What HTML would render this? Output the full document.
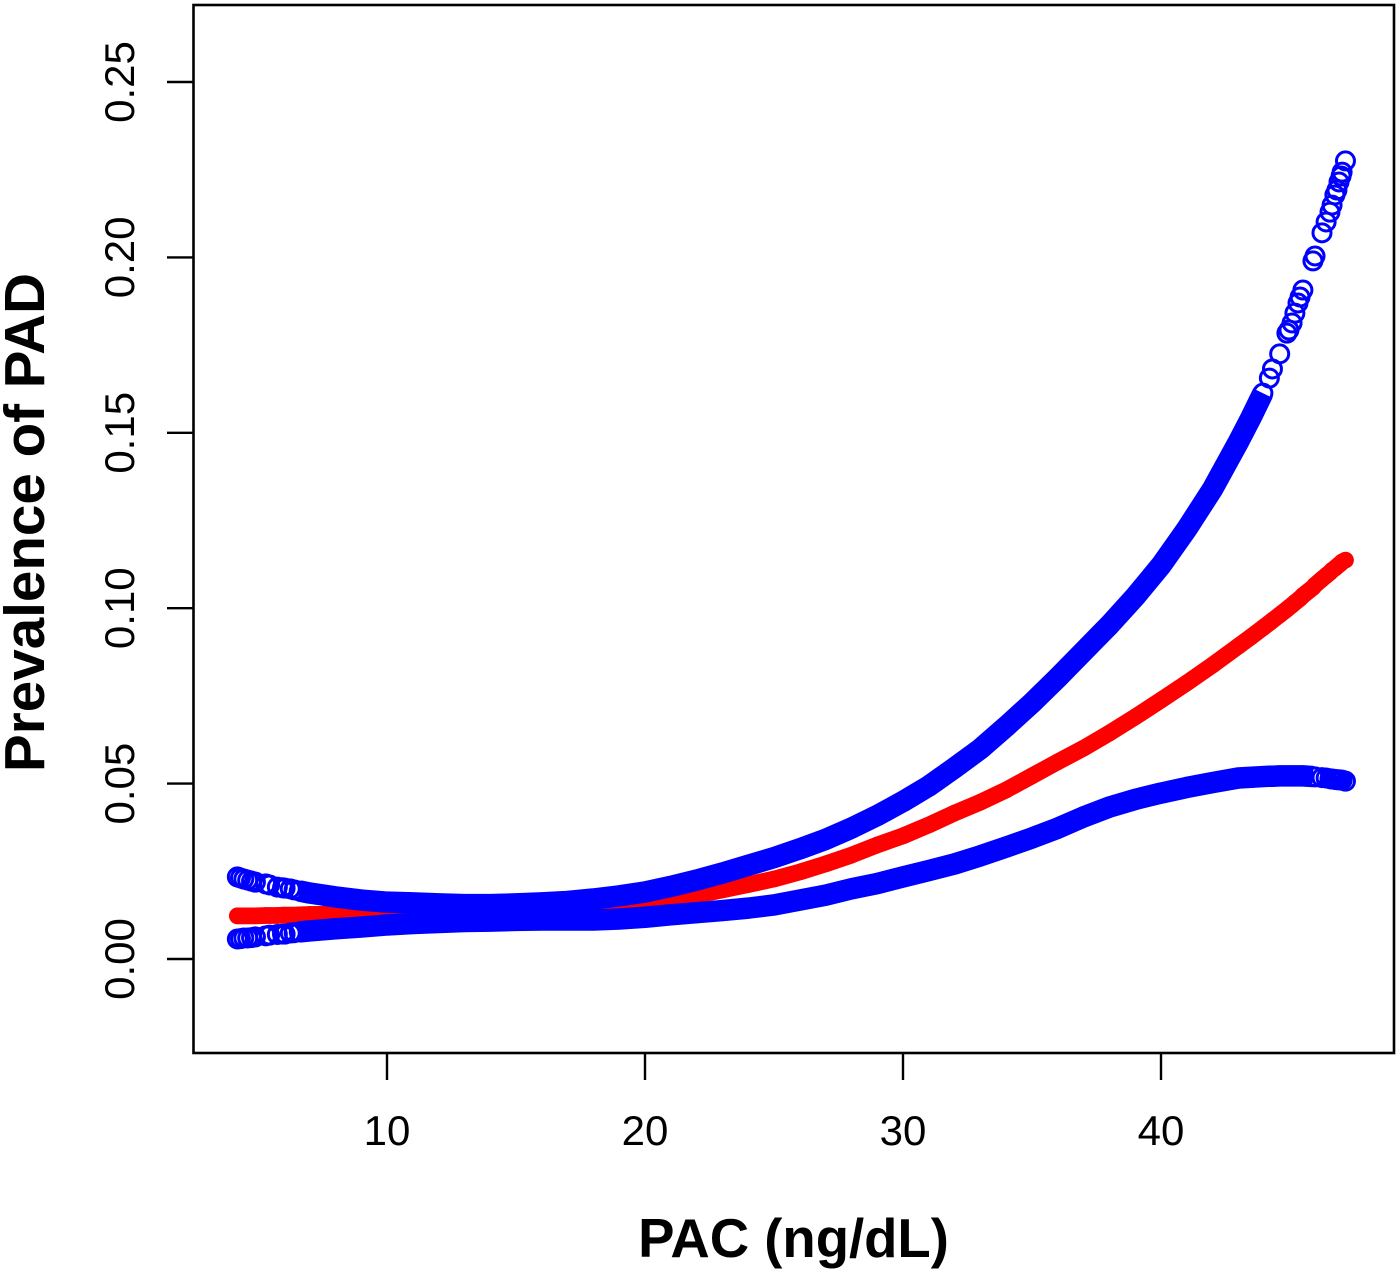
<!DOCTYPE html>
<html lang="en">
<head>
<meta charset="utf-8">
<title>Prevalence of PAD by PAC</title>
<style>
html,body{margin:0;padding:0;background:#fff;width:1400px;height:1273px;overflow:hidden}
svg{display:block}
text{font-family:"Liberation Sans",sans-serif;fill:#000}
</style>
</head>
<body>
<svg id="chart" xmlns="http://www.w3.org/2000/svg" width="1400" height="1273" viewBox="0 0 1400 1273">
<rect x="0" y="0" width="1400" height="1273" fill="#fff"/>
<g id="series"></g>
<rect x="193.5" y="5" width="1200.5" height="1048" fill="none" stroke="#000" stroke-width="2.6"/>
<g id="axes"></g>
<text x="793.5" y="1257" font-size="54.5" font-weight="700" text-anchor="middle">PAC (ng/dL)</text>
<text transform="translate(44,522.5) rotate(-90)" font-size="56.6" font-weight="700" text-anchor="middle">Prevalence of PAD</text>
</svg>
<script>
const xTickValues = [10, 20, 30, 40];
const xTickLabels = ['10', '20', '30', '40'];
const yTickValues = [0, 0.05, 0.10, 0.15, 0.20, 0.25];
const yTickLabels = ['0.00', '0.05', '0.10', '0.15', '0.20', '0.25'];

const pacValues = [
  4.2, 4.32, 4.45, 4.6, 4.75, 4.9, 5.3, 5.45, 5.75, 5.95, 6.05, 6.25, 6.4, 6.6,
  7, 8, 9, 10, 11, 12, 13, 14, 15, 16, 17, 18, 19, 20, 21, 22, 23, 24, 25,
  26, 27, 28, 29, 30, 31, 32, 33, 34, 35, 36, 37, 38, 39, 40, 41, 42,
  43, 43.5, 43.95, 44.2, 44.32, 44.6, 44.88, 44.96, 45.08, 45.19, 45.31, 45.39, 45.5,
  45.89, 45.97, 46.24, 46.4, 46.55, 46.63, 46.74, 46.82, 46.9, 46.98, 47.02, 47.15
];
const upperCI = [
  .0234, .0231, .0228, .0225, .0222, .0219, .0214, .0211, .0205, .0203, .0202, .0200, .0197, .0194,
  .0188, .0177, .0168, .0162, .0160, .0157, .0155, .0155, .0157, .0160, .0164, .0171, .0180, .0191, .0207, .0225, .0245, .0267, .0289,
  .0314, .0341, .0373, .0409, .0449, .0493, .0545, .0599, .0663, .0730, .0802, .0877, .0952, .1033, .1122, .1226, .1340,
  .1474, .1545, .1613, .1656, .1682, .1725, .1784, .1793, .1813, .1841, .1870, .1887, .1907,
  .1990, .2004, .2070, .2101, .2129, .2149, .2178, .2192, .2215, .2232, .2243, .2275
];
const fittedPrevalence = [
  .0123, .0123, .0123, .0123, .0123, .0123, .0124, .0124, .0124, .0125, .0125, .0125, .0125, .0126,
  .0127, .0128, .0128, .0130, .0130, .0131, .0132, .0133, .0135, .0137, .0141, .0146, .0153, .0157, .0168, .0182, .0197, .0212, .0228,
  .0248, .0271, .0296, .0325, .0351, .0382, .0416, .0447, .0482, .0522, .0562, .0601, .0644, .0690, .0738, .0787, .0838,
  .0892, .0919, .0944, .0958, .0965, .0981, .0997, .1002, .1009, .1016, .1023, .1028, .1036,
  .1059, .1066, .1083, .1093, .1102, .1108, .1114, .1119, .1124, .1129, .1132, .1137
];
const lowerCI = [
  .0057, .0058, .0060, .0060, .0061, .0063, .0066, .0068, .0070, .0071, .0071, .0074, .0075, .0077,
  .0080, .0086, .0091, .0097, .0101, .0104, .0107, .0108, .0110, .0111, .0111, .0111, .0114, .0119, .0126, .0132, .0138, .0145, .0154,
  .0168, .0182, .0200, .0215, .0234, .0252, .0271, .0294, .0319, .0345, .0373, .0405, .0433, .0455, .0473, .0489, .0503,
  .0516, .0518, .0520, .0521, .0521, .0522, .0522, .0522, .0522, .0522, .0522, .0522, .0522,
  .0520, .0519, .0517, .0516, .0514, .0513, .0512, .0511, .0511, .0510, .0510, .0507
];

const NS = 'http://www.w3.org/2000/svg';
const xScale = v => 387 + (v - 10) * 25.8;
const yScale = v => 959 - v * 3508;
const seriesLayer = document.getElementById('series');
const axesLayer = document.getElementById('axes');

function svgEl(tag, parent) {
  const el = document.createElementNS(NS, tag);
  parent.appendChild(el);
  return el;
}

function bandPoints(values, fromPac, toPac) {
  const pts = [];
  pacValues.forEach((p, i) => {
    if (p >= fromPac && p <= toPac) pts.push(xScale(p).toFixed(2) + ',' + yScale(values[i]).toFixed(2));
  });
  return pts.join(' ');
}

/* fitted curve */
const fitLine = svgEl('polyline', seriesLayer);


fitLine.setAttribute('points', bandPoints(fittedPrevalence, 0, 99));
fitLine.setAttribute('fill', 'none');
fitLine.setAttribute('stroke', '#f00');
fitLine.setAttribute('stroke-width', '16.7');
fitLine.setAttribute('stroke-linecap', 'round');
fitLine.setAttribute('stroke-linejoin', 'round');

pacValues.forEach((p, i) => {
  const dot = svgEl('circle', seriesLayer);
  
  
  dot.setAttribute('cx', xScale(p));
  dot.setAttribute('cy', yScale(fittedPrevalence[i]));
  dot.setAttribute('r', '8.3');
  dot.setAttribute('fill', '#f00');
});

/* upper confidence limit */
const upperLine = svgEl('polyline', seriesLayer);


upperLine.setAttribute('points', bandPoints(upperCI, 6.6, 43.95));
upperLine.setAttribute('fill', 'none');
upperLine.setAttribute('stroke', '#00f');
upperLine.setAttribute('stroke-width', '21.5');
upperLine.setAttribute('stroke-linejoin', 'round');

pacValues.forEach((p, i) => {
  const ring = svgEl('circle', seriesLayer);
  
  
  ring.setAttribute('cx', xScale(p));
  ring.setAttribute('cy', yScale(upperCI[i]));
  ring.setAttribute('r', '9');
  ring.setAttribute('fill', 'none');
  ring.setAttribute('stroke', '#00f');
  ring.setAttribute('stroke-width', '3');
});

/* lower confidence limit */
const lowerLine = svgEl('polyline', seriesLayer);


lowerLine.setAttribute('points', bandPoints(lowerCI, 6.6, 45.9));
lowerLine.setAttribute('fill', 'none');
lowerLine.setAttribute('stroke', '#00f');
lowerLine.setAttribute('stroke-width', '21.5');
lowerLine.setAttribute('stroke-linejoin', 'round');

pacValues.forEach((p, i) => {
  const ring = svgEl('circle', seriesLayer);
  
  
  ring.setAttribute('cx', xScale(p));
  ring.setAttribute('cy', yScale(lowerCI[i]));
  ring.setAttribute('r', '9');
  ring.setAttribute('fill', 'none');
  ring.setAttribute('stroke', '#00f');
  ring.setAttribute('stroke-width', '3');
});

/* x axis */
xTickValues.forEach((v, i) => {
  const tick = svgEl('line', axesLayer);
  
  
  tick.setAttribute('x1', xScale(v));
  tick.setAttribute('x2', xScale(v));
  tick.setAttribute('y1', 1053);
  tick.setAttribute('y2', 1080);
  tick.setAttribute('stroke', '#000');
  tick.setAttribute('stroke-width', '2.4');
  const label = svgEl('text', axesLayer);
  
  
  label.setAttribute('x', xScale(v));
  label.setAttribute('y', 1145);
  label.setAttribute('font-size', '42');
  label.setAttribute('text-anchor', 'middle');
  label.textContent = xTickLabels[i];
});

/* y axis */
yTickValues.forEach((v, i) => {
  const tick = svgEl('line', axesLayer);
  
  
  tick.setAttribute('x1', 167);
  tick.setAttribute('x2', 193.5);
  tick.setAttribute('y1', yScale(v));
  tick.setAttribute('y2', yScale(v));
  tick.setAttribute('stroke', '#000');
  tick.setAttribute('stroke-width', '2.4');
  const label = svgEl('text', axesLayer);
  
  
  label.setAttribute('transform', 'translate(134,' + yScale(v) + ') rotate(-90)');
  label.setAttribute('font-size', '42');
  label.setAttribute('text-anchor', 'middle');
  label.textContent = yTickLabels[i];
});
</script>
</body>
</html>
